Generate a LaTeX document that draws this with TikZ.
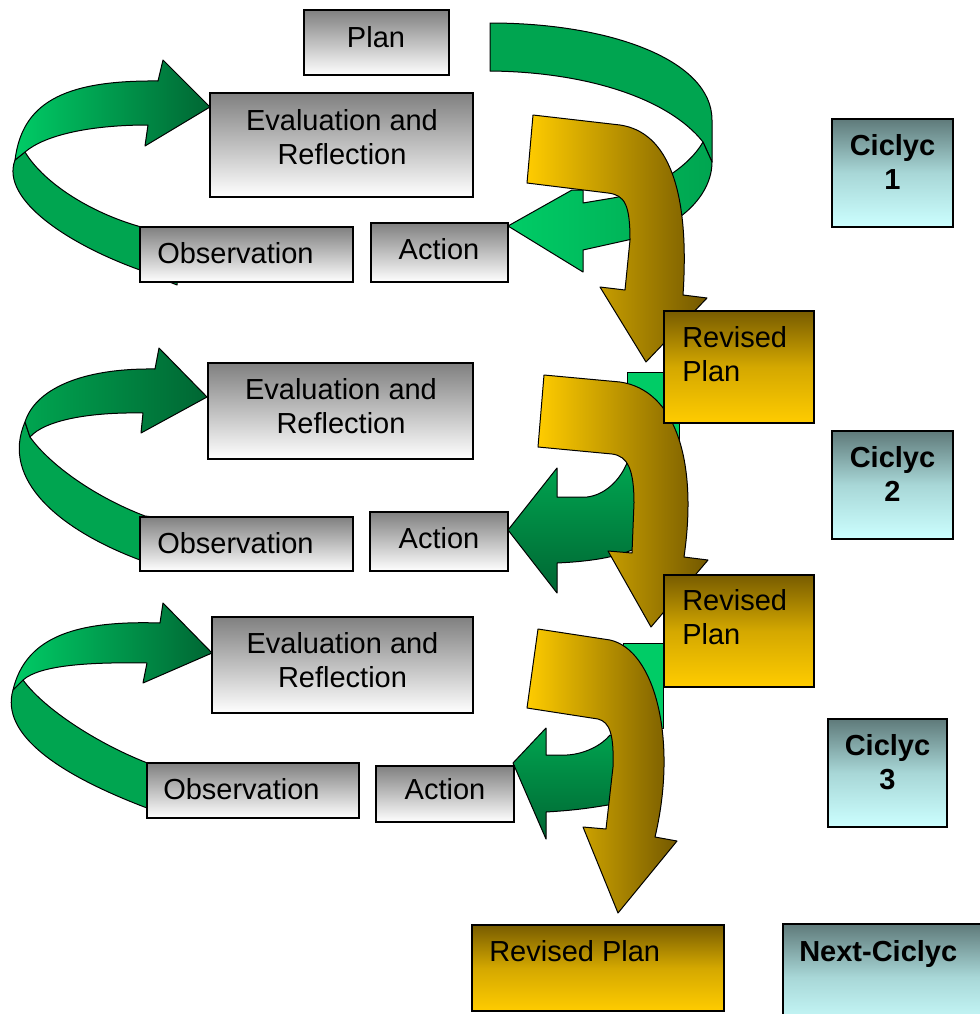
\documentclass[tikz,border=0pt]{standalone}
\usepackage{fontspec}
\setmainfont{Liberation Sans}
\definecolor{glight}{RGB}{0,204,102}
\definecolor{gmid}{RGB}{0,165,80}
\definecolor{gdark}{RGB}{0,102,51}
\definecolor{goldA}{RGB}{255,204,0}
\definecolor{goldB}{RGB}{115,88,0}
\definecolor{rtop}{RGB}{120,92,0}
\definecolor{rmid}{RGB}{212,168,0}
\definecolor{rbot}{RGB}{255,204,0}
\definecolor{ctop}{RGB}{95,122,122}
\definecolor{cmid}{RGB}{168,215,215}
\definecolor{cbot}{RGB}{204,255,255}
\definecolor{graytop}{RGB}{128,128,128}
\newcommand{\mkbox}[6]{\node[#1, anchor=north west, minimum width={(#4-#2)*0.75pt}, minimum height={(#5-#3)*0.75pt}] (#6) at (#2,#3) {};}
\newcommand{\mlc}[1]{\begin{tabular}[t]{@{}c@{}}#1\end{tabular}}
\newcommand{\mll}[1]{\begin{tabular}[t]{@{}l@{}}#1\end{tabular}}
\tikzset{
  arr/.style={draw=black, line width=0.75pt, line join=round},
  boxbase/.style={draw=black, line width=1pt, inner sep=0pt, outer sep=0pt, rectangle},
  graybox/.style={boxbase, top color=graytop, bottom color=white},
  revbox/.style={boxbase, top color=rtop, bottom color=rbot, middle color=rmid},
  cycbox/.style={boxbase, top color=ctop, bottom color=cbot, middle color=cmid},
  lbl/.style={inner sep=0pt, anchor=base, font=\fontsize{21.75}{25.5}\selectfont},
  lblb/.style={lbl, font=\fontsize{21.75}{25.5}\selectfont\bfseries},
}
\begin{document}
\begin{tikzpicture}[x=0.75pt,y=-0.75pt]
\fill[white] (0,0) rectangle (979,1014);
\useasboundingbox (0,0) rectangle (979,1014);

% ---------- left loops ----------
% cycle 1
\path[arr, fill=gmid] (15,160) -- (25,152) .. controls (45,185) and (95,215) .. (145,228) -- (180,234) -- (177,285) -- (140,270) .. controls (70,245) and (0,200) .. (15,160) -- cycle;
\path[arr, left color=glight, right color=gdark] (15,160) -- (25,152) .. controls (45,135) and (90,125) .. (148,125) -- (145,146) -- (210,107) -- (163,60) -- (158,81) .. controls (60,80) and (22,105) .. (15,160) -- cycle;
% cycle 2
\path[arr, fill=gmid] (25,422) -- (30,437) .. controls (50,465) and (95,497) .. (145,516) -- (180,520) -- (178,568) -- (140,560) .. controls (60,530) and (0,480) .. (25,422) -- cycle;
\path[arr, left color=gmid, right color=gdark] (25,422) -- (30,437) .. controls (45,420) and (90,412) .. (143,413) -- (141,433) -- (207,397) -- (159,348) -- (155,369) .. controls (80,368) and (35,390) .. (25,422) -- cycle;
% cycle 3
\path[arr, fill=gmid] (13,690) -- (23,680) .. controls (45,710) and (100,745) .. (150,764) -- (185,770) -- (183,815) -- (147,808) .. controls (60,775) and (0,735) .. (13,690) -- cycle;
\path[arr, left color=glight, right color=gdark] (13,690) -- (23,680) .. controls (40,665) and (90,662) .. (147,663) -- (143,683) -- (212,653) -- (163,603) -- (160,623) .. controls (70,620) and (25,640) .. (13,690) -- cycle;

% ---------- right green arrows ----------
% cycle 1: from Plan round to Action
\path[arr, fill=gmid] (490,23) .. controls (610,23) and (712,60) .. (712,120) -- (712,162) -- (703,142) .. controls (670,100) and (590,72) .. (490,71) -- cycle;
\path[arr, left color=glight, right color=gmid] (703,142) -- (712,162) .. controls (712,195) and (680,228) .. (628,240) -- (583,250) -- (583,272) -- (508,226) -- (572,190) -- (583,190) -- (583,203) -- (613,198) .. controls (655,190) and (690,165) .. (703,142) -- cycle;
% cycle 2
\path[arr, fill=glight] (627,372) -- (679,372) -- (679,462) -- (627,462) -- cycle;
\path[arr, top color=gmid, bottom color=gdark] (557,497) -- (587,497) .. controls (605,495) and (620,480) .. (627,463) -- (645,463) -- (645,548) -- (632,550) .. controls (620,555) and (600,561) .. (557,563) -- (557,593) -- (508,530) -- (557,468) -- cycle;
% cycle 3
\path[arr, fill=glight] (623,643) -- (663,643) -- (663,728) -- (623,728) -- cycle;
\path[arr, top color=gmid, bottom color=gdark] (546,755) -- (567,755) .. controls (585,754) and (602,745) .. (610,735) -- (625,735) -- (625,803) -- (608,805) .. controls (595,807) and (580,810) .. (546,812) -- (546,839) -- (513,763) -- (546,728) -- cycle;

% ---------- gold arrows ----------
\path[arr, left color=goldA, right color=goldB] (533,115) -- (620,125) .. controls (668,132) and (690,190) .. (683,295) -- (707,298) -- (646,362) -- (600,287) -- (625,290) -- (630,240) .. controls (630,205) and (625,195) .. (608,193) -- (527,183) -- cycle;
\path[arr, left color=goldA, right color=goldB] (544,375) -- (620,382) .. controls (675,390) and (698,460) .. (684,557) -- (708,560) -- (651,627) -- (608,551) -- (632,553) -- (634,503) .. controls (634,470) and (628,456) .. (612,454) -- (538,447) -- cycle;
\path[arr, left color=goldA, right color=goldB] (538,629) -- (610,640) .. controls (655,650) and (678,740) .. (655,837) -- (677,841) -- (618,913) -- (583,827) -- (606,829) -- (613,767) .. controls (614,735) and (610,722) .. (598,719) -- (527,708) -- cycle;

% ---------- boxes ----------
\mkbox{graybox}{304}{10}{449}{75}{plan}
\mkbox{graybox}{210}{93}{473}{197}{evalA}
\mkbox{graybox}{140}{227}{353}{282}{obsA}
\mkbox{graybox}{371}{223}{508}{282}{actA}
\mkbox{cycbox}{832}{119}{953}{227}{cycA}
\mkbox{revbox}{664}{311}{814}{423}{revA}
\mkbox{graybox}{208}{363}{473}{459}{evalB}
\mkbox{graybox}{140}{517}{353}{571}{obsB}
\mkbox{graybox}{370}{512}{508}{571}{actB}
\mkbox{cycbox}{832}{431}{953}{539}{cycB}
\mkbox{revbox}{664}{575}{814}{687}{revB}
\mkbox{graybox}{212}{617}{473}{713}{evalC}
\mkbox{graybox}{147}{763}{359}{818}{obsC}
\mkbox{graybox}{376}{766}{514}{822}{actC}
\mkbox{cycbox}{828}{719}{947}{827}{cycC}
\mkbox{revbox}{472}{925}{724}{1011}{revC}
\mkbox{cycbox}{783}{924}{990}{1030}{nextc}

% ---------- texts ----------
\node[lbl] (planT) at (376,47) {Plan};
\node[lbl] (evalAT) at (342,130) {\mlc{Evaluation and\\Reflection}};
\node[lbl, anchor=base west] (obsAT) at (157,263) {Observation};
\node[lbl] (actAT) at (439,259) {Action};
\node[lblb] (cycAT) at (892.5,155) {\mlc{Ciclyc\\1}};
\node[lbl, anchor=base west] (revAT) at (682,347) {\mll{Revised\\Plan}};

\node[lbl] (evalBT) at (341,399) {\mlc{Evaluation and\\Reflection}};
\node[lbl, anchor=base west] (obsBT) at (157,553) {Observation};
\node[lbl] (actBT) at (439,548) {Action};
\node[lblb] (cycBT) at (892.5,467) {\mlc{Ciclyc\\2}};
\node[lbl, anchor=base west] (revBT) at (682,610) {\mll{Revised\\Plan}};

\node[lbl] (evalCT) at (342.5,653) {\mlc{Evaluation and\\Reflection}};
\node[lbl, anchor=base west] (obsCT) at (163,799) {Observation};
\node[lbl] (actCT) at (445,799) {Action};
\node[lblb] (cycCT) at (887.5,755) {\mlc{Ciclyc\\3}};
\node[lbl, anchor=base west] (revCT) at (489,961) {Revised Plan};
\node[lblb, anchor=base west] (nextT) at (799,961) {Next-Ciclyc};
\end{tikzpicture}
\end{document}
